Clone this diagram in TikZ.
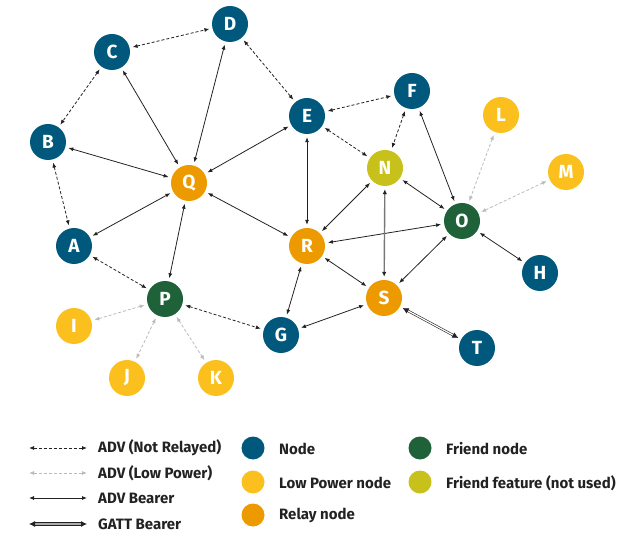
\documentclass[tikz,border=0pt]{standalone}
\usepackage{fontspec}
\setmainfont{Fira Sans}
\usetikzlibrary{arrows.meta}
\definecolor{nodeblue}{HTML}{00597C}
\definecolor{lpyellow}{HTML}{FBC01E}
\definecolor{relayor}{HTML}{EC9A00}
\definecolor{friendgr}{HTML}{1F6139}
\definecolor{ffeat}{HTML}{C9C11B}
\definecolor{txt}{HTML}{222222}
\definecolor{lightgr}{HTML}{BBBBBB}
\definecolor{midgr}{HTML}{777777}
\begin{document}
\begin{tikzpicture}[x=1pt,y=-1pt,
  mnode/.style={circle,minimum size=36pt,inner sep=0pt,text=white,font=\fontsize{19}{19}\selectfont\bfseries},
  nblue/.style={mnode,fill=nodeblue},
  nlp/.style={mnode,fill=lpyellow},
  nrelay/.style={mnode,fill=relayor},
  nfriend/.style={mnode,fill=friendgr},
  nfeat/.style={mnode,fill=ffeat},
  tip/.style={{Latex[length=5pt,width=4pt]}-{Latex[length=5pt,width=4pt]}},
  link/.style={tip,draw=txt,line width=0.8pt,shorten >=3pt,shorten <=3pt},
  nrl/.style={link,dashed,dash pattern=on 3pt off 2pt},
  lowp/.style={link,draw=lightgr,dashed,dash pattern=on 3pt off 2pt},
  adv/.style={link},
  grayl/.style={draw=midgr,line width=1.4pt,shorten >=3pt,shorten <=3pt,{Latex[length=5pt,width=4.5pt,color=txt]}-{Latex[length=5pt,width=4.5pt,color=txt]}},
  gatt/.style={draw=txt,double=midgr!60,double distance=1.6pt,line width=0.8pt,shorten >=3pt,shorten <=3pt,{Latex[length=6pt,width=6pt]}-{Latex[length=6pt,width=6pt]}},
  lgtext/.style={anchor=west,text=txt,font=\fontsize{15}{16}\selectfont\bfseries,inner sep=0pt},
  lgdot/.style={circle,minimum size=23pt,inner sep=0pt}
]
\useasboundingbox (0,0) rectangle (634,534);
% nodes
\node[nblue] (D) at (230,24) {D};
\node[nblue] (C) at (112,52) {C};
\node[nblue] (B) at (48,142) {B};
\node[nrelay] (Q) at (189,183) {Q};
\node[nblue] (A) at (74,246) {A};
\node[nblue] (E) at (307,116) {E};
\node[nblue] (F) at (412,91) {F};
\node[nlp] (L) at (501,115) {L};
\node[nlp] (M) at (566,172) {M};
\node[nfeat] (N) at (385,168) {N};
\node[nfriend] (O) at (462,221) {O};
\node[nrelay] (R) at (307,246) {R};
\node[nblue] (H) at (540,273) {H};
\node[nrelay] (S) at (384,298) {S};
\node[nfriend] (P) at (165,299) {P};
\node[nlp] (I) at (74,326) {I};
\node[nblue] (G) at (281,335) {G};
\node[nblue] (T) at (477,348) {T};
\node[nlp] (J) at (127,378) {J};
\node[nlp] (K) at (216,378) {K};
% not relayed
\draw[nrl] (C) -- (D);
\draw[nrl] (C) -- (B);
\draw[nrl] (B) -- (A);
\draw[nrl] (D) -- (E);
\draw[nrl] (E) -- (F);
\draw[nrl] (E) -- (N);
\draw[nrl] (F) -- (N);
\draw[nrl] (A) -- (P);
\draw[nrl] (P) -- (G);
% low power
\draw[lowp] (L) -- (O);
\draw[lowp] (M) -- (O);
\draw[lowp] (P) -- (I);
\draw[lowp] (P) -- (J);
\draw[lowp] (P) -- (K);
% adv bearer
\draw[adv] (C) -- (Q);
\draw[adv] (D) -- (Q);
\draw[adv] (B) -- (Q);
\draw[adv] (A) -- (Q);
\draw[adv] (E) -- (Q);
\draw[adv] (Q) -- (R);
\draw[adv] (Q) -- (P);
\draw[adv] (E) -- (R);
\draw[adv] (R) -- (N);
\draw[adv] (R) -- (O);
\draw[adv] (N) -- (O);
\draw[adv] (F) -- (O);
\draw[adv] (O) -- (S);
\draw[adv] (O) -- (H);
\draw[adv] (R) -- (S);
\draw[adv] (R) -- (G);
\draw[adv] (G) -- (S);
\draw[grayl] (N) -- (S);
% gatt
\draw[gatt,line width=0.6pt,double distance=1.2pt,double=white] (S) -- (T);
% legend
\coordinate (l1a) at (29,448); \coordinate (l1b) at (87,448);
\coordinate (l2a) at (29,473); \coordinate (l2b) at (87,473);
\coordinate (l3a) at (29,498); \coordinate (l3b) at (87,498);
\coordinate (l4a) at (29,524); \coordinate (l4b) at (87,524);
\draw[nrl,shorten >=0pt,shorten <=0pt] (l1a) -- (l1b);
\draw[lowp,shorten >=0pt,shorten <=0pt] (l2a) -- (l2b);
\draw[adv,shorten >=0pt,shorten <=0pt] (l3a) -- (l3b);
\draw[gatt,shorten >=0pt,shorten <=0pt] (l4a) -- (l4b);
\node[lgtext] (t1) at (98,448) {ADV (Not Relayed)};
\node[lgtext] (t2) at (98,473) {ADV (Low Power)};
\node[lgtext] (t3) at (98,498) {ADV Bearer};
\node[lgtext] (t4) at (98,524) {GATT Bearer};
\node[lgdot,fill=nodeblue] (d1) at (253,448) {};
\node[lgdot,fill=lpyellow] (d2) at (253,482) {};
\node[lgdot,fill=relayor] (d3) at (253,515) {};
\node[lgtext] (t5) at (279,449) {Node};
\node[lgtext] (t6) at (279,483) {Low Power node};
\node[lgtext] (t7) at (279,515) {Relay node};
\node[lgdot,fill=friendgr] (d4) at (420,448) {};
\node[lgdot,fill=ffeat] (d5) at (420,482) {};
\node[lgtext] (t8) at (446,449) {Friend node};
\node[lgtext] (t9) at (446,483) {Friend feature (not used)};
\end{tikzpicture}
\end{document}
